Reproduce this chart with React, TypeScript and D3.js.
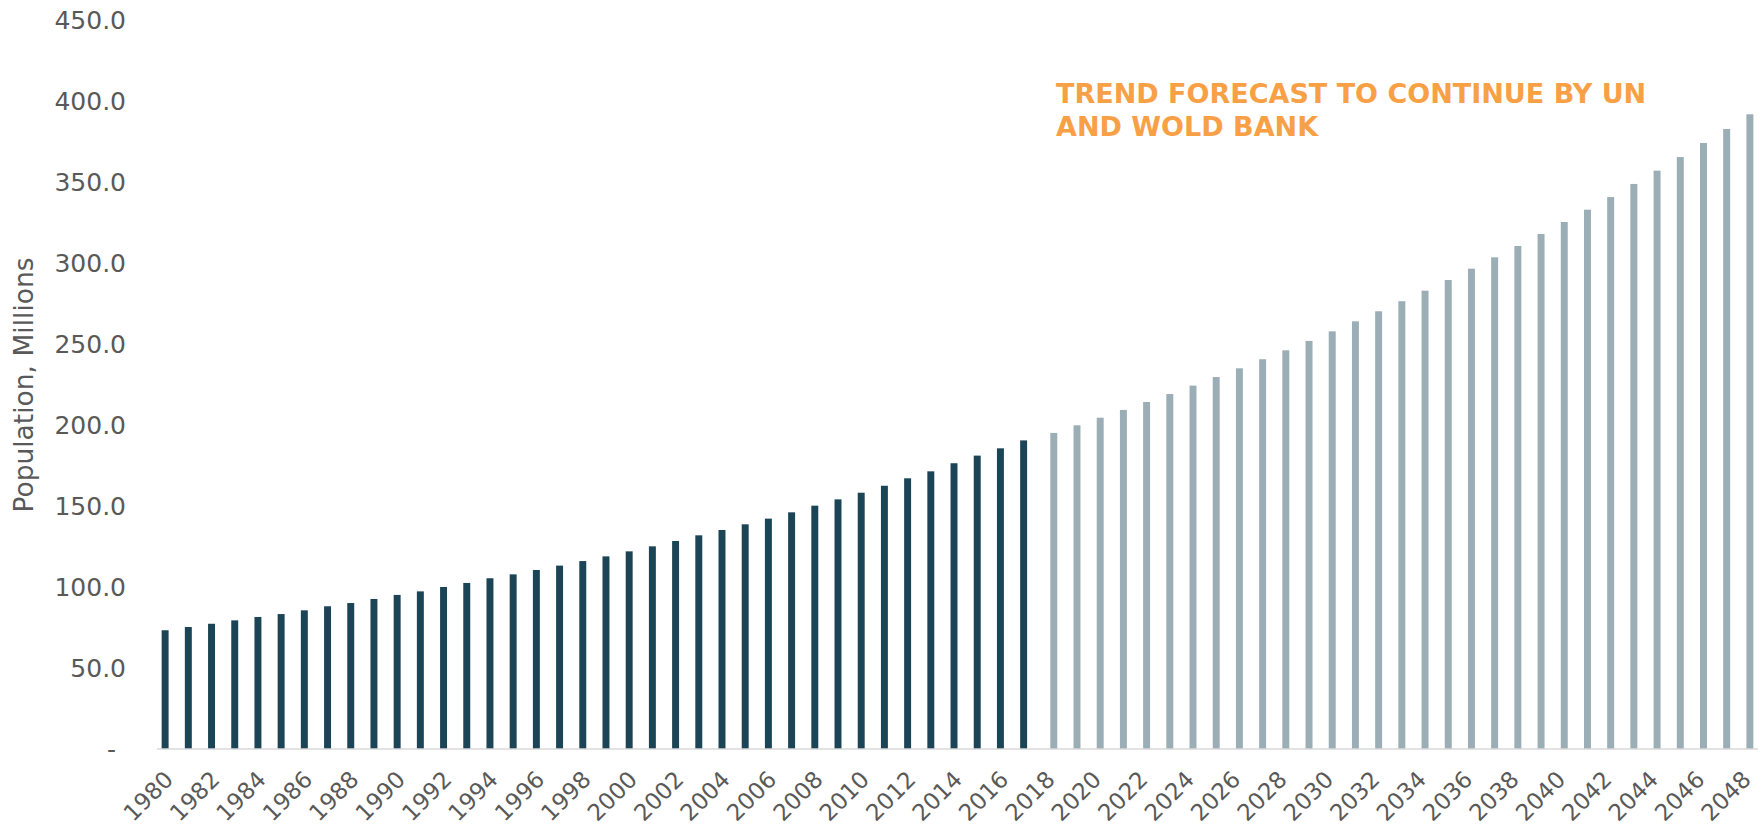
import React from 'react';
import * as d3 from 'd3';

// population, millions — actuals 1980-2017, trend forecast 2018-2048
const years = [
  1980, 1981, 1982, 1983, 1984, 1985, 1986, 1987, 1988, 1989,
  1990, 1991, 1992, 1993, 1994, 1995, 1996, 1997, 1998, 1999,
  2000, 2001, 2002, 2003, 2004, 2005, 2006, 2007, 2008, 2009,
  2010, 2011, 2012, 2013, 2014, 2015, 2016, 2017, 2018, 2019,
  2020, 2021, 2022, 2023, 2024, 2025, 2026, 2027, 2028, 2029,
  2030, 2031, 2032, 2033, 2034, 2035, 2036, 2037, 2038, 2039,
  2040, 2041, 2042, 2043, 2044, 2045, 2046, 2047, 2048,
];

const historical = [
  73.3, 75.3, 77.3, 79.4, 81.5, 83.3, 85.6, 88.1, 90.1, 92.6,
  95.1, 97.3, 100.0, 102.5, 105.4, 107.8, 110.5, 113.2, 116.0, 118.9,
  122.0, 125.1, 128.4, 131.9, 135.2, 138.7, 142.2, 146.1, 150.2, 154.1,
  158.2, 162.5, 167.1, 171.4, 176.4, 181.1, 185.6, 190.5,
];

const forecast = [
  195.1, 199.8, 204.5, 209.3, 214.2, 219.1, 224.3, 229.6, 235.0, 240.6,
  246.1, 251.9, 257.8, 264.0, 270.2, 276.4, 282.9, 289.5, 296.5, 303.5,
  310.5, 317.9, 325.3, 332.9, 340.7, 348.8, 357.0, 365.4, 374.1, 382.7,
  391.8,
];

const yTicks = [0, 50, 100, 150, 200, 250, 300, 350, 400, 450];
const xTickYears = [
  1980, 1982, 1984, 1986, 1988, 1990, 1992, 1994, 1996, 1998,
  2000, 2002, 2004, 2006, 2008, 2010, 2012, 2014, 2016, 2018,
  2020, 2022, 2024, 2026, 2028, 2030, 2032, 2034, 2036, 2038,
  2040, 2042, 2044, 2046, 2048,
];

const noteLines = ['TREND FORECAST TO CONTINUE BY UN', 'AND WOLD BANK'];

const W = 1763;
const H = 825;
const left = 157;
const right = 1758;
const top = 20;
const bottom = 749;

const labelFont = 'Verdana, "DejaVu Sans", sans-serif';
const labelColor = '#595959';

export default function App() {
  const x = d3.scaleBand<number>()
    .domain(years)
    .range([left, right])
    .paddingInner(0.4)
    .paddingOuter(0.2);

  const sub = d3.scaleBand<string>()
    .domain(['hist', 'fcst'])
    .range([0, x.bandwidth()]);

  const y = d3.scaleLinear().domain([0, 450]).range([bottom, top]);

  const histBars = historical.map((v, i) => ({ year: years[i], v }));
  const fcstBars = forecast.map((v, i) => ({ year: years[historical.length + i], v }));

  const center = (yr: number) => (x(yr) ?? 0) + x.bandwidth() / 2;
  const fmt = (v: number) => (v === 0 ? '-' : d3.format('.1f')(v));

  return (
    <svg
      width={W}
      height={H}
      style={{ position: 'absolute', left: 0, top: 0, background: '#fff' }}
    >
      <g>
        {histBars.map(d => (
          <rect
            key={'h' + d.year}
            x={(x(d.year) ?? 0) + (sub('hist') ?? 0)}
            y={y(d.v)}
            width={sub.bandwidth()}
            height={bottom - y(d.v)}
            fill="#1b4556"
          />
        ))}
        {fcstBars.map(d => (
          <rect
            key={'f' + d.year}
            x={(x(d.year) ?? 0) + (sub('fcst') ?? 0)}
            y={y(d.v)}
            width={sub.bandwidth()}
            height={bottom - y(d.v)}
            fill="#9badb5"
          />
        ))}
      </g>

      <line x1={left} x2={right} y1={bottom} y2={bottom} stroke="#d9d9d9" strokeWidth={1.5} />

      <g fontFamily={labelFont} fontSize={25} fill={labelColor} textAnchor="end">
        {yTicks.map(t => (
          <text key={t} x={126} y={y(t)} dy="0.35em" dx={t === 0 ? -10 : 0}>
            {fmt(t)}
          </text>
        ))}
      </g>

      <g fontFamily={labelFont} fontSize={23} fill={labelColor} textAnchor="end">
        {xTickYears.map(yr => (
          <text key={yr} transform={`translate(${center(yr) + 6},${bottom + 32}) rotate(-45)`}>
            {yr}
          </text>
        ))}
      </g>

      <text
        transform={`translate(33,385) rotate(-90)`}
        textAnchor="middle"
        fontFamily={labelFont}
        fontSize={26.5}
        fill={labelColor}
      >
        Population, Millions
      </text>

      <g
        fontFamily='Verdana, "DejaVu Sans", sans-serif'
        fontWeight="bold"
        fontSize={27}
        fill="#f8a046"
      >
        <text x={1056} y={103}>{noteLines[0]}</text>
        <text x={1056} y={136}>{noteLines[1]}</text>
      </g>
    </svg>
  );
}
